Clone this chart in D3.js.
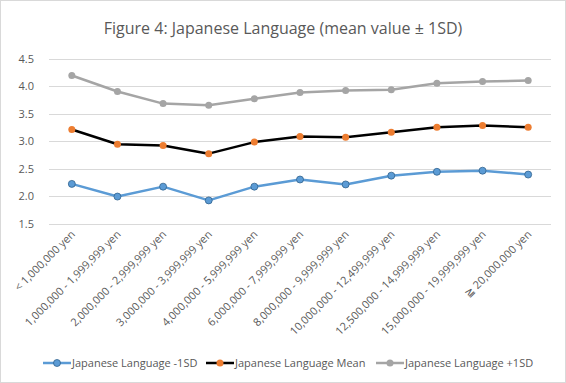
<!DOCTYPE html>
<html>
<script src="https://d3js.org/d3.v7.min.js"></script>
<style>
body { margin: 0; }
text { font-family: "Open Sans", "Noto Sans", sans-serif; fill: #595959; }
</style>
<body>
<svg width="566" height="383"></svg>
<script>
var categories = ["< 1,000,000 yen", "1,000,000 - 1,999,999 yen", "2,000,000 - 2,999,999 yen",
                  "3,000,000 - 3,999,999 yen", "4,000,000 - 5,999,999 yen", "6,000,000 - 7,999,999 yen",
                  "8,000,000 - 9,999,999 yen", "10,000,000 - 12,499,999 yen", "12,500,000 - 14,999,999 yen",
                  "15,000,000 - 19,999,999 yen", "\u2267 20,000,000 yen"];
var minus1SD = [2.22, 1.99, 2.17, 1.92, 2.17, 2.30, 2.21, 2.37, 2.44, 2.46, 2.39];
var meanVals = [3.21, 2.94, 2.92, 2.77, 2.98, 3.08, 3.07, 3.16, 3.25, 3.28, 3.25];
var plus1SD  = [4.19, 3.90, 3.68, 3.65, 3.77, 3.88, 3.92, 3.93, 4.05, 4.08, 4.10];
var yTicks = [1.5, 2.0, 2.5, 3.0, 3.5, 4.0, 4.5];

var series = [
  {name: "Japanese Language -1SD", values: minus1SD, line: "#5b9bd5", fill: "#5b9bd5", stroke: "#2e5f8a"},
  {name: "Japanese Language Mean", values: meanVals, line: "#000000", fill: "#ed7d31", stroke: "none"},
  {name: "Japanese Language +1SD", values: plus1SD, line: "#a5a5a5", fill: "#a5a5a5", stroke: "none"}
];

var svg = d3.select("svg");

svg.append("rect").attr("x", 0.5).attr("y", 0.5).attr("width", 565).attr("height", 382)
   .attr("fill", "#fff").attr("stroke", "#d9d9d9");

svg.append("text").attr("x", 283).attr("y", 34).attr("text-anchor", "middle")
   .style("font-size", "16px").text("Figure 4: Japanese Language (mean value \u00b1 1SD)");

var x = d3.scalePoint().domain(categories).range([49, 551]).padding(0.5);
var y = d3.scaleLinear().domain([1.5, 4.5]).range([223.5, 58.5]);

// grid
svg.append("g").selectAll("line").data(yTicks).join("line")
   .attr("x1", 49).attr("x2", 551)
   .attr("y1", d => Math.round(y(d)) + 0.5).attr("y2", d => Math.round(y(d)) + 0.5)
   .attr("stroke", "#d9d9d9");

svg.append("g").selectAll("text").data(yTicks).join("text")
   .attr("x", 34).attr("y", d => y(d) + 4).attr("text-anchor", "end")
   .style("font-size", "11px").text(d => d.toFixed(1));

svg.append("g").selectAll("text").data(categories).join("text")
   .attr("text-anchor", "end")
   .attr("transform", d => "translate(" + (x(d) + 4) + ",235) rotate(-45)")
   .style("font-size", "11px").text(d => d);

var line = d3.line().x((d, i) => x(categories[i])).y(d => y(d));

series.forEach(function(s) {
  var g = svg.append("g");
  g.append("path").datum(s.values).attr("d", line)
   .attr("fill", "none").attr("stroke", s.line).attr("stroke-width", 2.5)
   .attr("stroke-linejoin", "round");
  g.selectAll("circle").data(s.values).join("circle")
   .attr("cx", (d, i) => x(categories[i])).attr("cy", d => y(d)).attr("r", 3.5)
   .attr("fill", s.fill).attr("stroke", s.stroke).attr("stroke-width", 0.75);
});

// legend
var legendX = [43, 206, 376];
var lg = svg.append("g").selectAll("g").data(series).join("g")
   .attr("transform", (d, i) => "translate(" + legendX[i] + ",363)");
lg.append("line").attr("x1", 0).attr("x2", 28).attr("stroke", d => d.line).attr("stroke-width", 2.5);
lg.append("circle").attr("cx", 14).attr("r", 3.5).attr("fill", d => d.fill)
  .attr("stroke", d => d.stroke).attr("stroke-width", 0.75);
lg.append("text").attr("x", 29).attr("y", 4).style("font-size", "11px").text(d => d.name);
</script>
</body>
</html>
